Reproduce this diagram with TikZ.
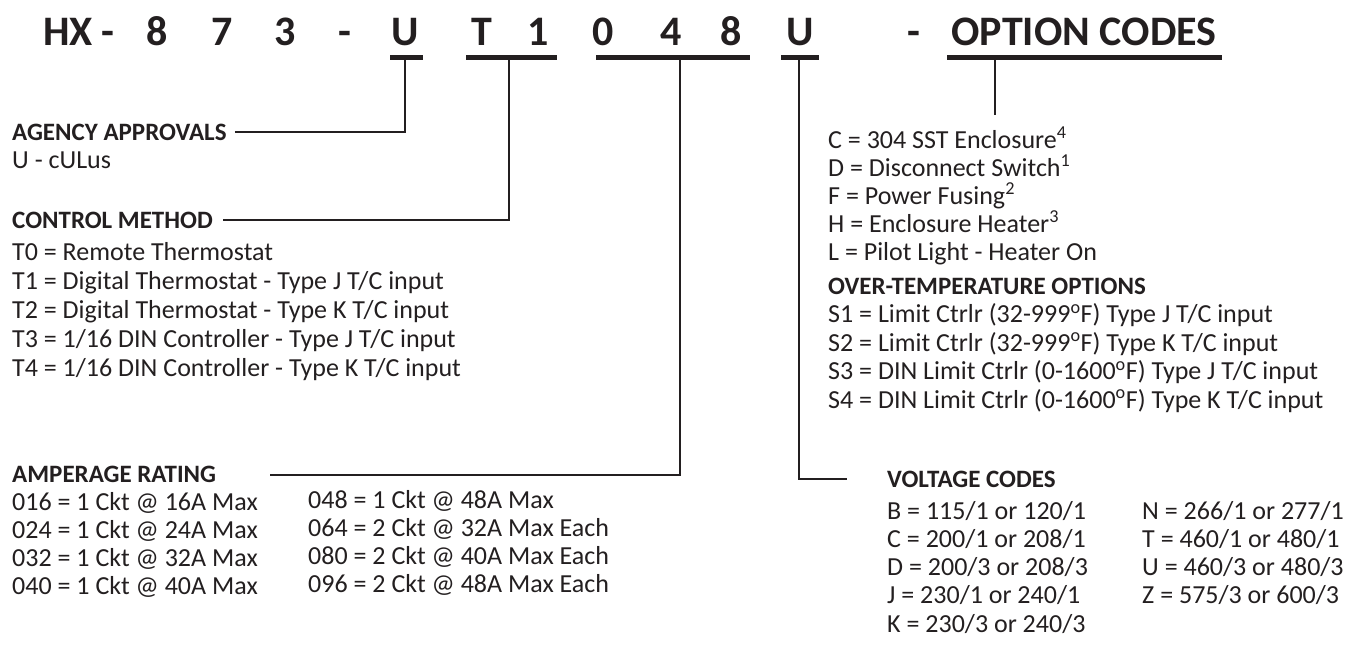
\documentclass[tikz,border=0pt]{standalone}
\usepackage{fontspec}
\setmainfont{Carlito}
\usetikzlibrary{positioning}
\definecolor{ink}{RGB}{35,31,32}
\tikzset{
  code/.style={font=\bfseries\fontsize{42}{42}\selectfont, anchor=base, inner sep=0pt, text=ink},
  head/.style={font=\bfseries\fontsize{25}{28}\selectfont, anchor=base west, inner sep=0pt, text=ink},
  item/.style={font=\fontsize{26}{28}\selectfont, anchor=base west, inner sep=0pt, text=ink},
  bar/.style={line width=5pt, draw=ink},
  lead/.style={line width=2pt, draw=ink},
}

\begin{document}
\begin{tikzpicture}[x=1pt, y=-1pt]
    \useasboundingbox (0,0) rectangle (1363,649);

    % Model code
    \node[code] (hx) at (68, 45) {HX};
    \node[code] (d1) at (108, 45) {-};
    \node[code] (c8) at (157, 45) {8};
    \node[code] (c7) at (222, 45) {7};
    \node[code] (c3) at (285, 45) {3};
    \node[code] (d2) at (345, 45) {-};
    \node[code] (ua) at (405, 45) {U};
    \node[code] (ct) at (482, 45) {T};
    \node[code] (c1) at (538, 45) {1};
    \node[code] (c0) at (603, 45) {0};
    \node[code] (c4) at (671, 45) {4};
    \node[code] (c8b) at (731, 45) {8};
    \node[code] (uv) at (800, 45) {U};
    \node[code] (d3) at (914, 45) {-};
    \node[code] (opt) at (1084, 45) {OPTION CODES};

    % Underlines
    \draw[bar] (390, 57) -- (423, 57);
    \draw[bar] (466, 57) -- (557, 57);
    \draw[bar] (596, 57) -- (750, 57);
    \draw[bar] (781, 57) -- (819, 57);
    \draw[bar] (947, 57) -- (1222, 57);
    \coordinate (uaB) at (405, 57);
    \coordinate (ctB) at (509, 57);
    \coordinate (ampB) at (680, 57);
    \coordinate (uvB) at (799, 57);
    \coordinate (optB) at (995, 57);

    % Agency approvals
    \node[head] (agency) at (12, 140) {AGENCY APPROVALS};
    \node[item] (cul) at (12, 168) {U - cULus};
    \draw[lead] ([xshift=8pt]agency.east |- 0,132) -| (uaB);

    % Control method
    \node[head] (control) at (12, 228) {CONTROL METHOD};
    \foreach \t [count=\i] in {T0 = Remote Thermostat,
        T1 = Digital Thermostat - Type J T/C input,
        T2 = Digital Thermostat - Type K T/C input,
        T3 = 1/16 DIN Controller - Type J T/C input,
        T4 = 1/16 DIN Controller - Type K T/C input}
      \node[item] (ctl\i) at (12, 231+29*\i) {\t};
    \draw[lead] ([xshift=10pt]control.east |- 0,220) -| (ctB);

    % Amperage rating
    \node[head] (amp) at (12, 482) {AMPERAGE RATING};
    \foreach \t [count=\i] in {016 = 1 Ckt @ 16A Max, 024 = 1 Ckt @ 24A Max,
        032 = 1 Ckt @ 32A Max, 040 = 1 Ckt @ 40A Max}
      \node[item] (ampl\i) at (12, 482+28*\i) {\t};
    \foreach \t [count=\i] in {048 = 1 Ckt @ 48A Max, 064 = 2 Ckt @ 32A Max Each,
        080 = 2 Ckt @ 40A Max Each, 096 = 2 Ckt @ 48A Max Each}
      \node[item] (ampr\i) at (308, 480+28*\i) {\t};
    \draw[lead] (270, 475) -| (ampB);

    % Option codes
    \coordinate (optE) at (995, 115);
    \draw[lead] (optB) -- (optE);
    \foreach \t [count=\i] in {C = 304 SST Enclosure\textsuperscript{4},
        D = Disconnect Switch\textsuperscript{1},
        F = Power Fusing\textsuperscript{2},
        H = Enclosure Heater\textsuperscript{3},
        L = Pilot Light - Heater On}
      \node[item] (opt\i) at (828, 120+28*\i) {\t};
    \node[head] (over) at (828, 294) {OVER-TEMPERATURE OPTIONS};
    \foreach \t [count=\i] in {S1 = Limit Ctrlr (32-999\textsuperscript{o}F) Type J T/C input,
        S2 = Limit Ctrlr (32-999\textsuperscript{o}F) Type K T/C input,
        S3 = DIN Limit Ctrlr (0-1600\textsuperscript{o}F) Type J T/C input,
        S4 = DIN Limit Ctrlr (0-1600\textsuperscript{o}F) Type K T/C input}
      \node[item] (ot\i) at (828, 294+28.5*\i) {\t};

    % Voltage codes
    \node[head] (volt) at (887, 487) {VOLTAGE CODES};
    \coordinate (voltW) at (847, 479);
    \draw[lead] (uvB) |- (voltW);
    \foreach \t [count=\i] in {B = 115/1 or 120/1, C = 200/1 or 208/1,
        D = 200/3 or 208/3, J = 230/1 or 240/1, K = 230/3 or 240/3}
      \node[item] (vl\i) at (887, 491+28.2*\i) {\t};
    \foreach \t [count=\i] in {N = 266/1 or 277/1, T = 460/1 or 480/1,
        U = 460/3 or 480/3, Z = 575/3 or 600/3}
      \node[item] (vr\i) at (1142, 491+28.2*\i) {\t};
\end{tikzpicture}
\end{document}
